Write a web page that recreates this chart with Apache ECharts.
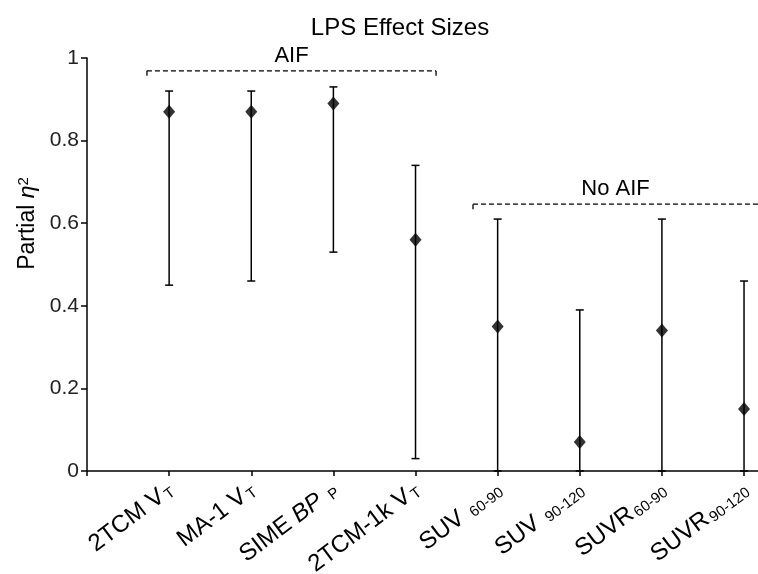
<!DOCTYPE html>
<html>
<head>
<meta charset="utf-8">
<script src="https://cdn.jsdelivr.net/npm/echarts@6/dist/echarts.min.js"></script>
<style>html,body{margin:0;padding:0;background:#fff;}#c{width:758px;height:574px;}</style>
</head>
<body>
<div id="c"></div>
<script>
// ---- data ----
const categories = ['2TCM V_T', 'MA-1 V_T', 'SIME BP_P', '2TCM-1k V_T', 'SUV 60-90', 'SUV 90-120', 'SUVR60-90', 'SUVR90-120'];
const labelMain = ['2TCM V', 'MA-1 V', 'SIME ', '2TCM-1k V', 'SUV ', 'SUV ', 'SUVR', 'SUVR'];
const labelItalic = ['', '', 'BP ', '', '', '', '', ''];
const labelSub = ['T', 'T', 'P', 'T', '60-90', '90-120', '60-90', '90-120'];
const effect = [0.87, 0.87, 0.89, 0.56, 0.35, 0.07, 0.34, 0.15];
const lower = [0.45, 0.46, 0.53, 0.03, 0.0, 0.0, 0.0, 0.0];
const upper = [0.92, 0.92, 0.93, 0.74, 0.61, 0.39, 0.61, 0.46];
const yTicks = [0, 0.2, 0.4, 0.6, 0.8, 1];
// brackets: [xStart, xEnd, yLevel, label, hasRightEnd]
const brackets = [
  [0.73, 4.25, 0.969, 'AIF', 1],
  [4.70, 8.30, 0.646, 'No AIF', 0]
];
const title = 'LPS Effect Sizes';
const xMax = 8.17;

const FONT = 'Liberation Sans, Arial, sans-serif';
const chart = echarts.init(document.getElementById('c'));

const pointData = effect.map((v, i) => [i + 1, v]);
const errData = effect.map((v, i) => [i + 1, lower[i], upper[i]]);

const option = {
  backgroundColor: '#fff',
  animation: false,
  title: {
    text: title, left: 395, top: 11, textAlign: 'center',
    textStyle: { fontFamily: FONT, fontSize: 24, fontWeight: 'normal', color: '#000' }
  },
  grid: { left: 87, right: 0, top: 58, bottom: 103, containLabel: false, outerBoundsMode: 'none' },
  xAxis: {
    type: 'value', min: 0, max: xMax, interval: 1,
    splitLine: { show: false },
    axisLine: { lineStyle: { color: '#000', width: 1.5 } },
    axisTick: { show: true, length: 5, lineStyle: { color: '#000', width: 1.5 } },
    axisLabel: {
      rotate: 37, margin: 14, showMaxLabel: false,
      formatter: function (v) {
        const i = Math.round(v) - 1;
        if (Math.abs(v - Math.round(v)) > 1e-6 || i < 0 || i >= categories.length) return '';
        let s = '{m|' + labelMain[i] + '}';
        if (labelItalic[i]) s += '{mi|' + labelItalic[i] + '}';
        s += '{s|' + labelSub[i] + '}';
        return s;
      },
      rich: {
        m: { fontFamily: FONT, fontSize: 24, lineHeight: 30, verticalAlign: 'bottom', color: '#000' },
        mi: { fontFamily: FONT, fontSize: 24, fontStyle: 'italic', lineHeight: 30, verticalAlign: 'bottom', color: '#000' },
        s: { fontFamily: FONT, fontSize: 15, lineHeight: 10, verticalAlign: 'bottom', color: '#000', padding: [0, 0, 0, 2] }
      }
    }
  },
  yAxis: {
    type: 'value', min: 0, max: 1, interval: 0.2,
    splitLine: { show: false },
    axisLine: { show: true, lineStyle: { color: '#000', width: 1.5 } },
    axisTick: { show: true, length: 6, lineStyle: { color: '#000', width: 1.5 } },
    axisLabel: {
      fontFamily: FONT, fontSize: 21, color: '#222', margin: 8,
      formatter: function (v) {
        const t = yTicks.find(x => Math.abs(x - v) < 1e-9);
        return t === undefined ? '' : String(t);
      }
    },
    name: '{n|Partial }{e|η}{p|2}',
    nameLocation: 'middle', nameGap: 43, nameRotate: 90,
    nameTextStyle: {
      padding: [0, 0, 0, 82],
      rich: {
        n: { fontFamily: FONT, fontSize: 23, lineHeight: 28, verticalAlign: 'top', color: '#000' },
        e: { fontFamily: FONT, fontSize: 23, fontStyle: 'italic', lineHeight: 28, verticalAlign: 'top', color: '#000' },
        p: { fontFamily: FONT, fontSize: 15, lineHeight: 16, verticalAlign: 'top', color: '#000' }
      }
    }
  },
  series: [
    {
      type: 'custom', name: 'err', data: errData, z: 2, clip: false,
      renderItem: function (params, api) {
        const x = api.value(0);
        const pLo = api.coord([x, api.value(1)]);
        const pHi = api.coord([x, api.value(2)]);
        const w = 4;
        const st = { stroke: '#000', lineWidth: 1.5 };
        return {
          type: 'group', children: [
            { type: 'line', shape: { x1: pLo[0], y1: pLo[1], x2: pHi[0], y2: pHi[1] }, style: st },
            { type: 'line', shape: { x1: pHi[0] - w, y1: pHi[1], x2: pHi[0] + w, y2: pHi[1] }, style: st },
            { type: 'line', shape: { x1: pLo[0] - w, y1: pLo[1], x2: pLo[0] + w, y2: pLo[1] }, style: st }
          ]
        };
      }
    },
    {
      type: 'scatter', name: 'effect', data: pointData, symbol: 'diamond', symbolSize: [12, 14], z: 3,
      itemStyle: { color: '#000' }
    },
    {
      type: 'custom', name: 'brackets', data: brackets.map(b => [b[0], b[1], b[2], b[4]]), z: 4, clip: false,
      renderItem: function (params, api) {
        const b = brackets[params.dataIndex];
        const p1 = api.coord([api.value(0), api.value(2)]);
        const p2 = api.coord([api.value(1), api.value(2)]);
        const st = { stroke: '#000', lineWidth: 1.3, lineDash: [5, 3] };
        const st2 = { stroke: '#000', lineWidth: 1.3 };
        const children = [
          { type: 'line', shape: { x1: p1[0], y1: p1[1], x2: p2[0], y2: p2[1] }, style: st },
          { type: 'line', shape: { x1: p1[0], y1: p1[1], x2: p1[0], y2: p1[1] + 5 }, style: st2 }
        ];
        if (api.value(3)) {
          children.push({ type: 'line', shape: { x1: p2[0], y1: p2[1], x2: p2[0], y2: p2[1] + 5 }, style: st2 });
        }
        const midX = b[4] ? (p1[0] + p2[0]) / 2 : (p1[0] + api.coord([xMax, 0])[0]) / 2;
        children.push({
          type: 'text',
          style: { text: b[3], x: midX, y: p1[1] - 4, align: 'center', verticalAlign: 'bottom',
                   fontFamily: FONT, fontSize: 22, fill: '#000' }
        });
        return { type: 'group', children: children };
      }
    }
  ]
};
chart.setOption(option);
</script>
</body>
</html>
